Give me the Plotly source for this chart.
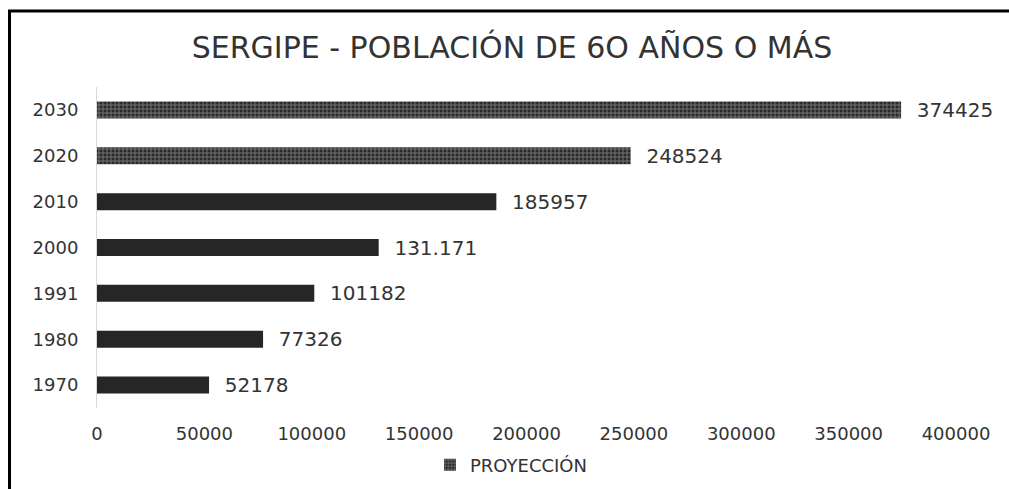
import plotly.graph_objects as go

# ---- data ----
years_hist = ["1970", "1980", "1991", "2000", "2010"]
values_hist = [52178, 77326, 101182, 131171, 185957]
labels_hist = ["52178", "77326", "101182", "131.171", "185957"]

years_proj = ["2020", "2030"]
values_proj = [248524, 374425]
labels_proj = ["248524", "374425"]

category_order = ["1970", "1980", "1991", "2000", "2010", "2020", "2030"]
x_ticks = [0, 50000, 100000, 150000, 200000, 250000, 300000, 350000, 400000]

title_text = "SERGIPE - POBLACIÓN DE 6O AÑOS O MÁS"
legend_name = "PROYECCIÓN"

# ---- layout geometry ----
W, H = 1009, 489
L, R, T, B = 97, 53, 87, 81

FONT = "DejaVu Sans"
TXT = "#333333"
PAD = "\u00a0\u00a0"

fig = go.Figure()
fig.add_trace(go.Bar(
    y=years_hist, x=values_hist, orientation="h",
    text=[PAD + t for t in labels_hist], textposition="outside", constraintext="none",
    textfont=dict(family=FONT, size=20, color=TXT),
    marker=dict(color="#262626", line=dict(width=0)),
    width=0.37, showlegend=False, cliponaxis=False,
))
fig.add_trace(go.Bar(
    y=years_proj, x=values_proj, orientation="h", name=legend_name,
    text=[PAD + t for t in labels_proj], textposition="outside", constraintext="none",
    textfont=dict(family=FONT, size=20, color=TXT),
    marker=dict(color="#2a2a2a", line=dict(width=0),
                pattern=dict(shape="+", fgcolor="#c8c8c8", bgcolor="#2a2a2a",
                             size=4, solidity=0.4, fillmode="overlay")),
    width=0.37, showlegend=True, cliponaxis=False,
))

pw = W - L - R
ph = H - T - B
def px_x(p):
    return (p - L) / pw
def px_y(p):
    return 1 - (p - T) / ph

fig.update_layout(
    width=W, height=H,
    margin=dict(l=L, r=R, t=T, b=B, autoexpand=False),
    paper_bgcolor="white", plot_bgcolor="white",
    barmode="overlay",
    title=dict(text=title_text, x=512 / W, xref="container", xanchor="center",
               y=1 - 47 / H, yref="container", yanchor="middle",
               font=dict(family=FONT, size=30, color=TXT)),
    xaxis=dict(range=[0, 400000], tickvals=x_ticks, ticktext=[str(v) for v in x_ticks],
               showgrid=False, zeroline=False, showline=False, ticks="", automargin=False,
               tickfont=dict(family=FONT, size=18, color=TXT), ticklabelstandoff=13),
    yaxis=dict(type="category", categoryorder="array", categoryarray=category_order,
               showgrid=False, zeroline=False, showline=True, linecolor="#d9d9d9",
               linewidth=1, ticks="", automargin=False,
               tickfont=dict(family=FONT, size=18, color=TXT),
               ticklabelstandoff=14),
    legend=dict(orientation="h", x=430 / W, xref="container", xanchor="left",
                y=1 - 465 / H, yref="container", yanchor="middle",
                font=dict(family=FONT, size=18, color=TXT), bgcolor="rgba(0,0,0,0)"),
    showlegend=True,
    shapes=[
        dict(type="line", xref="paper", yref="paper",
             x0=px_x(8), x1=px_x(1009), y0=px_y(11), y1=px_y(11),
             line=dict(color="black", width=3)),
        dict(type="line", xref="paper", yref="paper",
             x0=px_x(9.5), x1=px_x(9.5), y0=px_y(10), y1=px_y(492),
             line=dict(color="black", width=3)),
    ],
)

fig.write_html("out.html", config={"displayModeBar": False},
               post_script="document.body.style.margin='0';")
